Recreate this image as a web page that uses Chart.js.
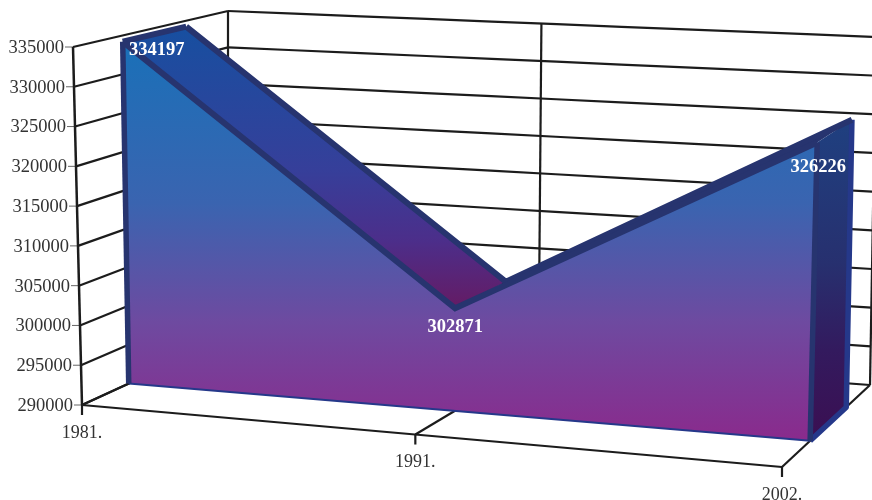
<!DOCTYPE html>
<html>
<head>
<meta charset="utf-8">
<style>
  html, body { margin: 0; padding: 0; background: #fff; }
  canvas { display: block; }
</style>
<script src="https://cdn.jsdelivr.net/npm/chart.js@4"></script>
</head>
<body>
<canvas id="chart" width="872" height="500"></canvas>
<script>
const years = [1981, 1991, 2002];
const population = [334197, 302871, 326226];
const axisMin = 290000;
const axisMax = 335000;
const axisStep = 5000;

// corners of the 3D box on the page, [x, y]
const box = {
  floorFrontLeft: [82, 405],
  floorFrontRight: [782, 467],
  floorBackLeft: [228, 338],
  floorBackRight: [870, 385],
  topFrontLeft: [73, 47],
  topFrontRight: [792, 86],
  topBackLeft: [228, 11],
  topBackRight: [876, 37],
};
const depthFront = 0.32;
const depthBack = 0.73;

const navy = "#27346f";
const labelOffsets = [[34, 9], [0, 19], [1, 25]];

const mix = (a, b, t) => [a[0] + (b[0] - a[0]) * t, a[1] + (b[1] - a[1]) * t];

// u along the years, v up the values, w into the depth, all 0..1
const corner = (u, v, w) => {
  const u2 = u + 0.03 * w * u * (1 - u);
  const front = mix(mix(box.floorFrontLeft, box.floorFrontRight, u2), mix(box.topFrontLeft, box.topFrontRight, u2), v);
  const back = mix(mix(box.floorBackLeft, box.floorBackRight, u2), mix(box.topBackLeft, box.topBackRight, u2), v);
  return mix(front, back, w);
};

const project = (chart, year, value, w) => {
  const xs = chart.scales.x;
  const ys = chart.scales.y;
  const u = (xs.getPixelForValue(year) - xs.left) / xs.width;
  const v = (ys.bottom - ys.getPixelForValue(value)) / ys.height;
  return corner(u, v, w);
};

const stroke = (ctx, pts, color, width, join) => {
  ctx.beginPath();
  pts.forEach((p, i) => (i ? ctx.lineTo(p[0], p[1]) : ctx.moveTo(p[0], p[1])));
  ctx.strokeStyle = color;
  ctx.lineWidth = width;
  ctx.lineJoin = join || "round";
  ctx.stroke();
};

const fillPoly = (ctx, pts, fill) => {
  ctx.beginPath();
  pts.forEach((p, i) => (i ? ctx.lineTo(p[0], p[1]) : ctx.moveTo(p[0], p[1])));
  ctx.closePath();
  ctx.fillStyle = fill;
  ctx.fill();
};

const gradient = (ctx, y0, y1, stops) => {
  const g = ctx.createLinearGradient(0, y0, 0, y1);
  stops.forEach((s) => g.addColorStop(s[0], s[1]));
  return g;
};

const area3d = {
  id: "area3d",
  afterDatasetsUpdate(chart) {
    // move the line points onto the 3D faces
    chart.data.datasets.forEach((ds, i) => {
      chart.getDatasetMeta(i).data.forEach((pt, j) => {
        const p = project(chart, years[j], population[j], ds.depth);
        pt.x = p[0];
        pt.y = p[1];
      });
    });
  },
  beforeDatasetsDraw(chart) {
    const ctx = chart.ctx;
    const ys = chart.scales.y;
    const xs = chart.scales.x;
    const ink = "#1c1c1c";
    ctx.save();
    ctx.lineCap = "butt";

    // walls
    ys.ticks.forEach((t) => {
      const v = (t.value - axisMin) / (axisMax - axisMin);
      stroke(ctx, [corner(0, v, 0), corner(0, v, 1)], ink, 2.2);
      const line = [];
      for (let u = 0; u <= 1.001; u += 0.1) line.push(corner(u, v, 1));
      stroke(ctx, line, ink, 2.2);
      const p = corner(0, v, 0);
      stroke(ctx, [[p[0] - 8, p[1]], p], "#666", 1);
      ctx.fillStyle = "#333";
      ctx.font = "18.5px 'Liberation Serif'";
      ctx.textAlign = "right";
      ctx.textBaseline = "middle";
      ctx.fillText(String(t.value), p[0] - 9, p[1] + 1);
    });
    stroke(ctx, [corner(0, 0, 0), corner(0, 1, 0)], ink, 2.5);
    xs.ticks.forEach((t) => {
      const u = (xs.getPixelForValue(t.value) - xs.left) / xs.width;
      stroke(ctx, [corner(u, 0, 1), corner(u, 1, 1)], ink, 2.2);
      stroke(ctx, [corner(u, 0, 0), corner(u, 0, 1)], ink, 2.2);
      const p = corner(u, 0, 0);
      stroke(ctx, [p, [p[0], p[1] + 10]], ink, 2.2);
      ctx.fillStyle = "#333";
      ctx.font = "18px 'Liberation Serif'";
      ctx.textAlign = "center";
      ctx.textBaseline = "middle";
      ctx.fillText(t.value + ".", p[0], p[1] + 28);
    });
    stroke(ctx, [corner(0, 0, 0), corner(1, 0, 0)], ink, 2.2);

    // the area faces
    const front = years.map((y, i) => project(chart, y, population[i], depthFront));
    const back = years.map((y, i) => project(chart, y, population[i], depthBack));
    const frontFloor = years.map((y) => project(chart, y, axisMin, depthFront));
    const last = years.length - 1;
    const backFloorEnd = project(chart, years[last], axisMin, depthBack);

    fillPoly(ctx, [front[0], back[0], back[1], front[1]], gradient(ctx, 28, 312, [
      [0, "#174fa0"], [0.5, "#363f9a"], [0.75, "#4c2e8a"], [1, "#661a62"],
    ]));
    stroke(ctx, [front[0], back[0]], navy, 6);
    fillPoly(ctx, [front[1], back[1], back[2], front[2]], navy);

    fillPoly(ctx, [front[last], back[last], backFloorEnd, frontFloor[last]], gradient(ctx, 120, 440, [
      [0, "#1f4080"], [0.45, "#27306f"], [0.72, "#331a5e"], [1, "#3b0f52"],
    ]));
    stroke(ctx, [back[last], backFloorEnd, frontFloor[last]], "#25388a", 5.5);

    fillPoly(ctx, [...front, ...frontFloor.slice().reverse()], gradient(ctx, 45, 441, [
      [0, "#1a70b8"], [0.4, "#3a64b0"], [0.7, "#6e4aa0"], [1, "#8a2a8c"],
    ]));
    stroke(ctx, [frontFloor[0], frontFloor[last]], "#25388a", 2);
    stroke(ctx, [front[0], frontFloor[0]], navy, 5.5);
    stroke(ctx, [front[last], frontFloor[last]], navy, 5.5);
    ctx.restore();
  },
  afterDatasetsDraw(chart) {
    const ctx = chart.ctx;
    const meta = chart.getDatasetMeta(0);
    ctx.save();
    ctx.fillStyle = "#fff";
    ctx.font = "bold 18.5px 'Liberation Serif'";
    ctx.textAlign = "center";
    ctx.textBaseline = "middle";
    meta.data.forEach((pt, i) => {
      ctx.fillText(String(population[i]), pt.x + labelOffsets[i][0], pt.y + labelOffsets[i][1]);
    });
    ctx.restore();
  },
};

const toPoints = () => years.map((y, i) => ({ x: y, y: population[i] }));

new Chart(document.getElementById("chart"), {
  type: "line",
  data: {
    datasets: [
      { label: "front", depth: depthFront, data: toPoints(), borderColor: navy, borderWidth: 6, pointRadius: 0, tension: 0, clip: false },
      { label: "back", depth: depthBack, data: toPoints(), borderColor: navy, borderWidth: 6, pointRadius: 0, tension: 0, clip: false },
    ],
  },
  options: {
    responsive: false,
    animation: false,
    layout: { padding: 0 },
    plugins: { legend: { display: false }, tooltip: { enabled: false } },
    scales: {
      x: {
        type: "linear",
        display: false,
        min: years[0],
        max: years[years.length - 1],
        afterBuildTicks: (axis) => {
          axis.ticks = years.map((y) => ({ value: y }));
        },
      },
      y: {
        display: false,
        min: axisMin,
        max: axisMax,
        ticks: { stepSize: axisStep },
      },
    },
  },
  plugins: [area3d],
});
</script>
</body>
</html>
